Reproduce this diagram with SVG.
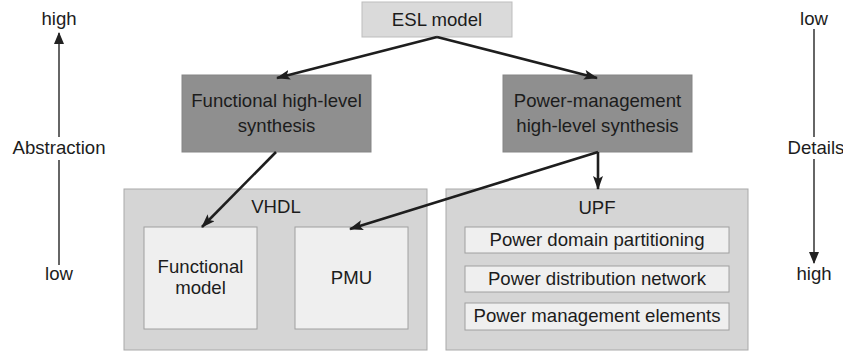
<svg xmlns="http://www.w3.org/2000/svg" width="843" height="352" viewBox="0 0 843 352">
<style>
text{font-family:"Liberation Sans",Arial,Helvetica,sans-serif;font-size:18.6px;fill:#1c1c1c;text-anchor:middle}
.esl{fill:#dadada;stroke:#bdbdbd;stroke-width:1}
.hls{fill:#8f8f8f;stroke:#858585;stroke-width:1}
.cont{fill:#d5d5d5;stroke:#a9a9a9;stroke-width:1}
.inner{fill:#efefef;stroke:#a0a0a0;stroke-width:1}
.conn{stroke:#1e1e1e;stroke-width:2.6;fill:none;marker-end:url(#ah)}
.axis{stroke:#333;stroke-width:1.5;fill:none}
</style>
<defs>
<marker id="ah" markerUnits="userSpaceOnUse" viewBox="0 0 14 10" refX="13" refY="5" markerWidth="14" markerHeight="10" orient="auto">
<path d="M0,0 L14,5 L0,10 L3,5 Z" fill="#1e1e1e"/>
</marker>
<marker id="ax" markerUnits="userSpaceOnUse" viewBox="0 0 12 10" refX="11" refY="5" markerWidth="12" markerHeight="10" orient="auto">
<path d="M0,0 L12,5 L0,10 Z" fill="#222"/>
</marker>
</defs>

<g id="axis-abstraction">
<line class="axis" x1="59" y1="137" x2="59" y2="33" marker-end="url(#ax)"/>
<line class="axis" x1="59" y1="160" x2="59" y2="265"/>
<text x="59" y="25">high</text>
<text x="59" y="154">Abstraction</text>
<text x="59" y="280">low</text>
</g>

<g id="axis-details">
<line class="axis" x1="814" y1="29" x2="814" y2="137"/>
<line class="axis" x1="814" y1="159" x2="814" y2="263" marker-end="url(#ax)"/>
<text x="814" y="25">low</text>
<text x="816" y="154">Details</text>
<text x="814" y="280">high</text>
</g>

<g id="esl">
<rect class="esl" x="362" y="2" width="150" height="35"/>
<text x="437" y="26">ESL model</text>
</g>

<g id="func-hls">
<rect class="hls" x="182" y="75" width="189" height="77"/>
<text x="276.5" y="107">Functional high-level</text>
<text x="276.5" y="132">synthesis</text>
</g>

<g id="pm-hls">
<rect class="hls" x="503" y="75" width="189" height="77"/>
<text x="597.5" y="107">Power-management</text>
<text x="597.5" y="132">high-level synthesis</text>
</g>

<g id="vhdl">
<rect class="cont" x="124" y="189" width="303" height="161"/>
<text x="276" y="213">VHDL</text>
</g>

<g id="functional-model">
<rect class="inner" x="144" y="227" width="113" height="102"/>
<text x="200.5" y="273">Functional</text>
<text x="200.5" y="294">model</text>
</g>

<g id="pmu">
<rect class="inner" x="295" y="227" width="113" height="102"/>
<text x="351.5" y="284">PMU</text>
</g>

<g id="upf">
<rect class="cont" x="446" y="189" width="302" height="161"/>
<text x="597" y="214">UPF</text>
</g>

<g id="upf-domain">
<rect class="inner" x="465" y="227" width="264" height="26"/>
<text x="597" y="246">Power domain partitioning</text>
</g>

<g id="upf-network">
<rect class="inner" x="465" y="266" width="264" height="26"/>
<text x="597" y="285">Power distribution network</text>
</g>

<g id="upf-elements">
<rect class="inner" x="465" y="303" width="264" height="27"/>
<text x="597" y="322">Power management elements</text>
</g>

<g id="connectors">
<line class="conn" x1="437" y1="37" x2="277" y2="78"/>
<line class="conn" x1="437" y1="37" x2="597" y2="78"/>
<line class="conn" x1="276" y1="152" x2="202" y2="227"/>
<line class="conn" x1="598" y1="152" x2="350" y2="229"/>
<line class="conn" x1="598" y1="152" x2="598" y2="189"/>
</g>
</svg>
